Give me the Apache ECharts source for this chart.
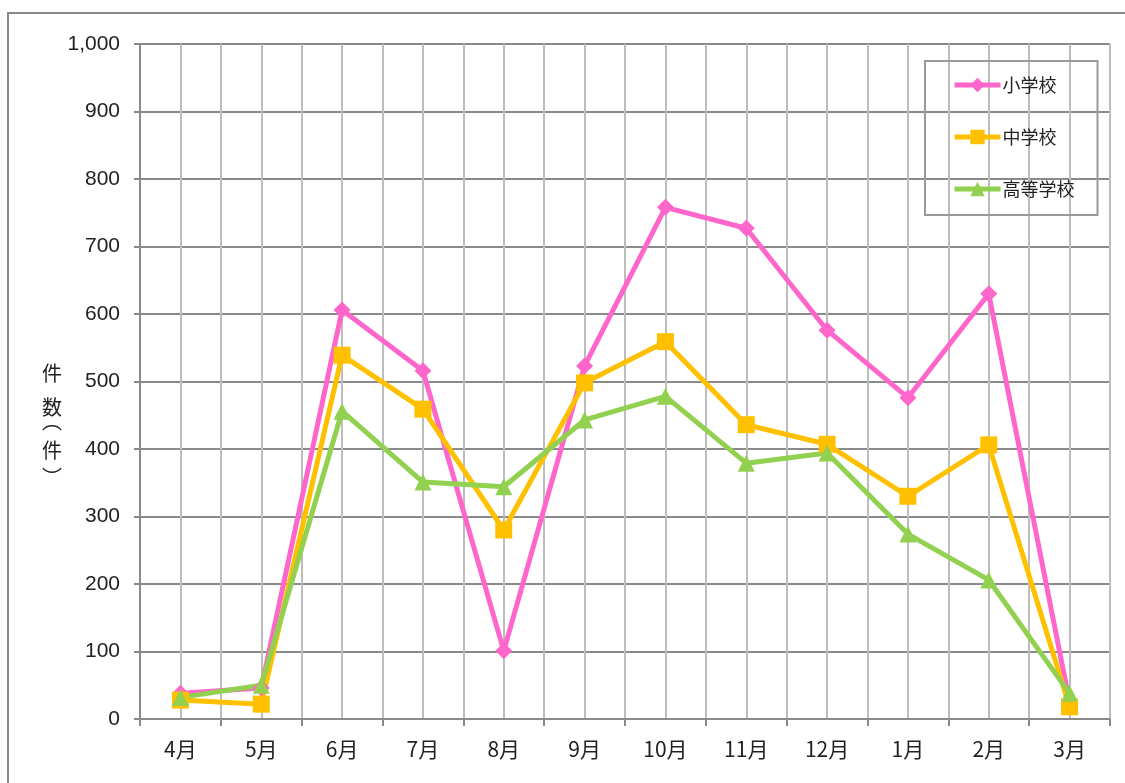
<!DOCTYPE html>
<html>
<head>
<meta charset="utf-8">
<script src="https://cdn.jsdelivr.net/npm/echarts@6/dist/echarts.min.js"></script>
<style>
  html, body { margin: 0; padding: 0; background: #fff; }
  #chart { width: 1125px; height: 783px; }
</style>
</head>
<body>
<div id="chart"></div>
<script>
// 月（年度順）
var months = ["4月", "5月", "6月", "7月", "8月", "9月", "10月", "11月", "12月", "1月", "2月", "3月"];
// 件数
var elementary = [38, 46, 606, 516, 101, 523, 758, 727, 576, 476, 630, 25];
var juniorHigh = [28, 22, 539, 459, 280, 498, 559, 436, 407, 330, 406, 18];
var highSchool = [32, 50, 456, 351, 344, 443, 478, 379, 394, 274, 206, 38];
var yTicks = [0, 1000, 100]; // min, max, interval

var axisGray = "#8a8a8a";
var numFont = "'Liberation Sans', sans-serif";
var cjkFont = "'Noto Sans CJK JP', sans-serif";

var myChart = echarts.init(document.getElementById("chart"));

function lineSeries(name, data, color, symbol, size) {
  return {
    name: name,
    type: "line",
    data: data,
    symbol: symbol,
    symbolSize: size,
    showAllSymbol: true,
    lineStyle: { color: color, width: 5 },
    itemStyle: { color: color },
    emphasis: { disabled: true },
    animation: false
  };
}

// 縦書きの軸タイトル（1文字ずつ）
function yChar(ch, y) {
  return {
    type: "text",
    x: 52,
    y: y,
    style: { text: ch, font: "20px " + cjkFont, fill: "#222", textAlign: "center", textVerticalAlign: "middle" },
    silent: true
  };
}

var option = {
  animation: false,
  grid: { left: 140, right: 15, top: 44, bottom: 64 },
  legend: {
    orient: "vertical",
    left: 925,
    top: 61,
    padding: [15, 23, 17, 27],
    itemGap: 34,
    itemWidth: 46,
    itemHeight: 18,
    borderColor: "#9a9a9a",
    borderWidth: 2,
    lineStyle: { width: 5 },
    textStyle: { fontFamily: cjkFont, fontSize: 18, color: "#222", padding: [0, 0, 0, -3], lineHeight: 18 },
    data: ["小学校", "中学校", "高等学校"]
  },
  xAxis: [
    {
      type: "category",
      data: months,
      boundaryGap: true,
      axisLine: { lineStyle: { color: axisGray, width: 2 } },
      axisTick: { show: true, length: 7, lineStyle: { color: axisGray, width: 2 } },
      axisLabel: { fontFamily: cjkFont, fontSize: 21, color: "#222", margin: 20 },
      splitLine: { show: false }
    },
    {
      // 縦の補助線（各月の中央と境界）
      type: "value",
      min: 0,
      max: 12,
      interval: 0.5,
      position: "bottom",
      axisLine: { show: false },
      axisTick: { show: false },
      axisLabel: { show: false },
      splitLine: { show: true, lineStyle: { color: "#bdbdbd", width: 2 } }
    }
  ],
  yAxis: {
    type: "value",
    min: yTicks[0],
    max: yTicks[1],
    interval: yTicks[2],
    axisLine: { show: true, lineStyle: { color: axisGray, width: 2 } },
    axisTick: { show: true, length: 6, lineStyle: { color: axisGray, width: 2 } },
    axisLabel: {
      fontFamily: numFont,
      fontSize: 21,
      color: "#222",
      margin: 20,
      formatter: function (v) { return v.toLocaleString("en-US"); }
    },
    splitLine: { show: true, lineStyle: { color: axisGray, width: 2 } }
  },
  graphic: [
    {
      type: "rect",
      shape: { x: 8, y: 13, width: 1400, height: 1000 },
      style: { fill: "none", stroke: "#8a8a8a", lineWidth: 2 },
      silent: true
    },
    yChar("件", 373),
    yChar("数", 407),
    yChar("︵", 421),
    yChar("件", 450),
    yChar("︶", 477)
  ],
  series: [
    lineSeries("小学校", elementary, "#ff66cc", "diamond", 17),
    lineSeries("中学校", juniorHigh, "#ffc000", "rect", 17),
    lineSeries("高等学校", highSchool, "#92d050", "triangle", 17)
  ]
};

myChart.setOption(option);
</script>
</body>
</html>
